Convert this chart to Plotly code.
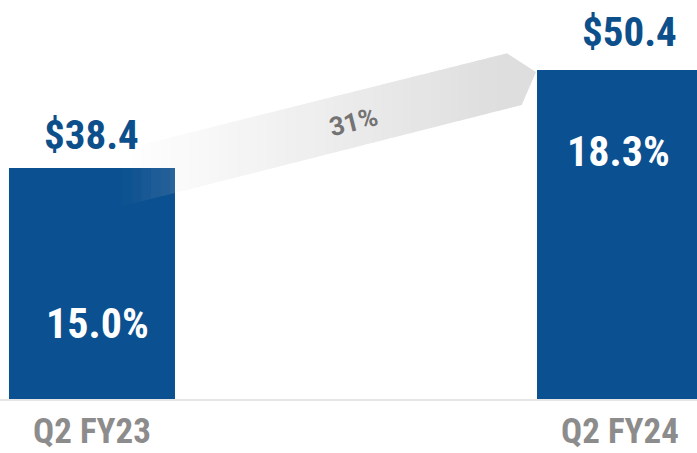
import plotly.graph_objects as go

# ---- data ----
categories = ["Q2 FY23", "Q2 FY24"]
revenue = [38.4, 50.4]
revenue_labels = ["$38.4", "$50.4"]
margin_labels = ["15.0%", "18.3%"]
growth_label = "31%"

# ---- styles ----
BAR_COLOR = "#0b5090"
VALUE_COLOR = "#0d4f8b"
TICK_COLOR = "#8c8c8c"
COND_FONT = "Roboto Condensed, Liberation Sans Narrow, Roboto, sans-serif"

W, H = 697, 453
PLOT_H = 399

fig = go.Figure()
fig.add_trace(go.Bar(
    x=categories, y=revenue, width=0.3144,
    marker=dict(color=BAR_COLOR, line=dict(width=0)),
    hoverinfo="skip",
))

# value labels above bars
value_shift = [33, 38]
value_xshift = [0, 9]
for c, v, t, ys, xs in zip(categories, revenue, revenue_labels, value_shift, value_xshift):
    fig.add_annotation(x=c, y=v, text=t, showarrow=False, yanchor="middle",
                       yshift=ys, xshift=xs,
                       font=dict(family=COND_FONT, size=41, color=VALUE_COLOR, weight="bold"))

# margin labels inside bars
inner_shift = [-156, -82]
inner_xshift = [6, -2]
for c, v, t, ys, xs in zip(categories, revenue, margin_labels, inner_shift, inner_xshift):
    fig.add_annotation(x=c, y=v, text=t, showarrow=False, yanchor="middle",
                       yshift=ys, xshift=xs,
                       font=dict(family=COND_FONT, size=42, color="white", weight="bold"))

# ---- growth arrow (decorative, pixel geometry -> paper coords) ----
def px(xp):
    return xp / W

def py(yp):
    return (PLOT_H - yp) / PLOT_H

def upper(x):
    return 53.3 + 0.25 * (507 - x)

def lower(x):
    return 105 + 0.2536 * (521.7 - x)

x_start, x_end_up, x_end_lo, tip = 122.0, 507.0, 521.7, (536.0, 72.0)
n = 40
base = 222
shapes = []
for i in range(n):
    xa = x_start + (x_end_up - x_start) * i / n
    xb = x_start + (x_end_up - x_start) * (i + 1) / n
    xm = (xa + xb) / 2
    a = min(1.0, max(0.0, (xm - x_start) / (500 - x_start)))
    if xm < 178:
        col = f"rgba({base},{base},{base},{a:.3f})"
    else:
        g = round(255 - a * (255 - base))
        col = f"rgb({g},{g},{g})"
        xb += 0.6 if i < n - 1 else 0
    path = (f"M {px(xa)},{py(upper(xa))} L {px(xb)},{py(upper(xb))} "
            f"L {px(xb)},{py(lower(xb))} L {px(xa)},{py(lower(xa))} Z")
    shapes.append(dict(type="path", xref="paper", yref="paper", path=path,
                       fillcolor=col, line=dict(width=0), layer="above"))
# arrow head
g = base
path = (f"M {px(x_end_up)},{py(upper(x_end_up))} L {px(tip[0])},{py(tip[1])} "
        f"L {px(x_end_lo)},{py(lower(x_end_lo))} L {px(x_end_up)},{py(lower(x_end_up))} Z")
shapes.append(dict(type="path", xref="paper", yref="paper", path=path,
                   fillcolor=f"rgb({g},{g},{g})", line=dict(width=0), layer="above"))

fig.add_annotation(xref="paper", yref="paper", x=px(353), y=py(122), text=growth_label,
                   showarrow=False, textangle=-14, xanchor="center", yanchor="middle",
                   font=dict(family="Roboto, sans-serif", size=26, color="#737373", weight="bold"))

fig.update_layout(
    width=W, height=H,
    margin=dict(l=0, r=0, t=0, b=H - PLOT_H),
    paper_bgcolor="white", plot_bgcolor="white",
    showlegend=False,
    shapes=shapes,
    xaxis=dict(range=[-0.1742, 1.1458], showgrid=False, zeroline=False,
               automargin=False,
               showline=True, linecolor="#e6e6e6", linewidth=2,
               ticks="", ticklabelstandoff=0,
               tickfont=dict(family=COND_FONT, size=35, color=TICK_COLOR, weight="bold")),
    yaxis=dict(range=[10.11, 58.97], visible=False, showgrid=False, zeroline=False,
               automargin=False),
)

fig.write_html("out.html")
